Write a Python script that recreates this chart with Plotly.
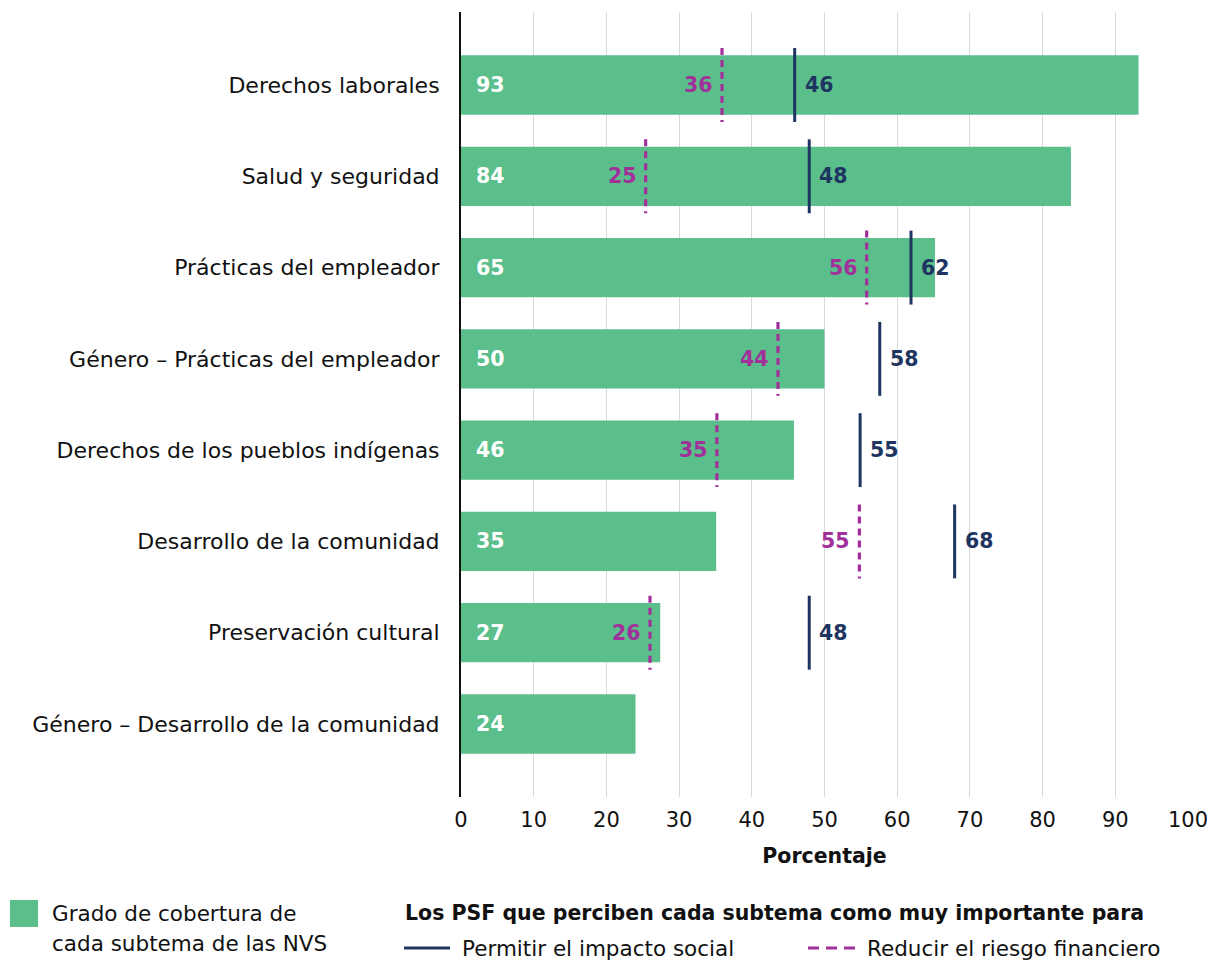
import plotly.graph_objects as go

categories = [
    "Derechos laborales",
    "Salud y seguridad",
    "Prácticas del empleador",
    "Género – Prácticas del empleador",
    "Derechos de los pueblos indígenas",
    "Desarrollo de la comunidad",
    "Preservación cultural",
    "Género – Desarrollo de la comunidad",
]
coverage = [93.2, 83.9, 65.2, 50.0, 45.8, 35.1, 27.4, 24.0]
social_impact = [45.9, 47.9, 61.9, 57.6, 54.9, 67.9, 47.9, None]
financial_risk = [35.9, 25.4, 55.8, 43.6, 35.2, 54.8, 26.0, None]
x_ticks = [0, 10, 20, 30, 40, 50, 60, 70, 80, 90, 100]

GREEN = "#5BBF8C"
NAVY = "#1F3561"
MAGENTA = "#A1309A"
FONT = "DejaVu Sans"
TXT = "#111111"
DASH = "7px,5px"

idx = list(range(len(categories)))
HALF = 0.405

fig = go.Figure()
fig.add_trace(go.Bar(
    y=idx, x=coverage, orientation="h", width=0.65,
    marker=dict(color=GREEN, line=dict(width=0)), showlegend=False, hoverinfo="skip",
))

def seg(vals):
    xs, ys = [], []
    for i, v in zip(idx, vals):
        if v is None:
            continue
        xs += [v, v, None]
        ys += [i - HALF, i + HALF, None]
    return xs, ys

xs, ys = seg(financial_risk)
fig.add_trace(go.Scatter(x=xs, y=ys, mode="lines",
                         line=dict(color=MAGENTA, width=3.2, dash=DASH),
                         showlegend=False, hoverinfo="skip"))
xs, ys = seg(social_impact)
fig.add_trace(go.Scatter(x=xs, y=ys, mode="lines",
                         line=dict(color=NAVY, width=3),
                         showlegend=False, hoverinfo="skip"))

ann = []
for i, v in zip(idx, coverage):
    ann.append(dict(x=0, y=i, xref="x", yref="y", text=f"<b>{round(v)}</b>",
                    showarrow=False, xanchor="left", xshift=13,
                    font=dict(family=FONT, size=20.5, color="white")))
for i, v in zip(idx, financial_risk):
    if v is None:
        continue
    ann.append(dict(x=v, y=i, xref="x", yref="y", text=f"<b>{round(v)}</b>",
                    showarrow=False, xanchor="right", xshift=-7,
                    font=dict(family=FONT, size=20.5, color=MAGENTA)))
for i, v in zip(idx, social_impact):
    if v is None:
        continue
    ann.append(dict(x=v, y=i, xref="x", yref="y", text=f"<b>{round(v)}</b>",
                    showarrow=False, xanchor="left", xshift=8,
                    font=dict(family=FONT, size=20.5, color=NAVY)))

# legend (pixel -> paper conversion)
L, R, T, B = 461, 1188, 12, 797
W, H = R - L, B - T
def px(x):
    return (x - L) / W
def py(y):
    return (B - y) / H

shapes = [
    dict(type="rect", xref="paper", yref="paper", x0=px(10), x1=px(38), y0=py(927), y1=py(900),
         fillcolor=GREEN, line=dict(width=0)),
    dict(type="line", xref="paper", yref="paper", x0=px(404), x1=px(450), y0=py(948), y1=py(948),
         line=dict(color=NAVY, width=3)),
    dict(type="line", xref="paper", yref="paper", x0=px(808), x1=px(855), y0=py(948), y1=py(948),
         line=dict(color=MAGENTA, width=3.2, dash="11px,7px")),
]
leg_font = dict(family=FONT, size=21.5, color=TXT)
ann += [
    dict(xref="paper", yref="paper", x=px(50), y=py(913), text="Grado de cobertura de",
         showarrow=False, xanchor="left", yanchor="middle", font=leg_font),
    dict(xref="paper", yref="paper", x=px(50), y=py(943), text="cada subtema de las NVS",
         showarrow=False, xanchor="left", yanchor="middle", font=leg_font),
    dict(xref="paper", yref="paper", x=px(403), y=py(913),
         text="<b>Los PSF que perciben cada subtema como muy importante para</b>",
         showarrow=False, xanchor="left", yanchor="middle",
         font=dict(family=FONT, size=20.5, color=TXT)),
    dict(xref="paper", yref="paper", x=px(460), y=py(948), text="Permitir el impacto social",
         showarrow=False, xanchor="left", yanchor="middle", font=leg_font),
    dict(xref="paper", yref="paper", x=px(865), y=py(948), text="Reducir el riesgo financiero",
         showarrow=False, xanchor="left", yanchor="middle", font=leg_font),
]

fig.update_layout(
    width=1211, height=962,
    margin=dict(l=L, r=1211 - R, t=T, b=962 - B),
    plot_bgcolor="white", paper_bgcolor="white",
    font=dict(family=FONT, size=21, color=TXT),
    annotations=ann, shapes=shapes,
    xaxis=dict(range=[0, 100], tickvals=x_ticks, showgrid=True, gridcolor="#D9D9D9",
               gridwidth=1, zeroline=False, showline=False, ticks="",
               ticklabelstandoff=8, automargin=False,
               title=dict(text="<b>Porcentaje</b>", standoff=17,
                          font=dict(family=FONT, size=20.5, color=TXT)),
               tickfont=dict(family=FONT, size=21, color=TXT), fixedrange=True),
    yaxis=dict(range=[7.8, -0.8], tickvals=idx, ticktext=categories, showgrid=False,
               zeroline=False, showline=True, linecolor=TXT, linewidth=2,
               ticks="", ticklabelstandoff=15, automargin=False,
               tickfont=dict(family=FONT, size=22, color=TXT), fixedrange=True),
)

fig.write_html("out.html", config={"displayModeBar": False},
               post_script="document.body.style.margin='0px';document.body.style.overflow='hidden';")
